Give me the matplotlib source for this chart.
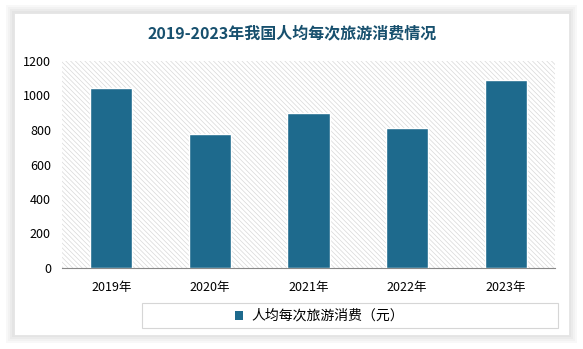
import matplotlib
matplotlib.use("Agg")
import matplotlib.pyplot as plt
from matplotlib.patches import Rectangle

plt.rcParams['font.family'] = ['Noto Sans CJK SC', 'DejaVu Sans']
plt.rcParams['hatch.linewidth'] = 0.5

years = ['2019年', '2020年', '2021年', '2022年', '2023年']
spend = [1043, 777, 899, 811, 1090]
yticks = [0, 200, 400, 600, 800, 1000, 1200]

title = '2019-2023年我国人均每次旅游消费情况'
series_name = '人均每次旅游消费（元）'
bar_color = '#1e6a8d'

W, H = 583, 349
fig = plt.figure(figsize=(W / 100, H / 100), dpi=100)
fig.patch.set_facecolor('white')

# card with soft shadow
for i, a in enumerate([0.05, 0.05, 0.06, 0.07]):
    pad = (4 - i) * 2
    fig.patches.append(Rectangle(((14 - pad) / W, 1 - (335 + pad) / H),
                                 (555 + 2 * pad) / W, (322 + 2 * pad) / H,
                                 transform=fig.transFigure, facecolor='#888888',
                                 edgecolor='none', alpha=a, zorder=0))
fig.patches.append(Rectangle((14 / W, 1 - 335 / H), 555 / W, 322 / H,
                             transform=fig.transFigure, facecolor='white',
                             edgecolor='#e4e4e4', linewidth=0.6, zorder=1))

fig.text(292 / W, 1 - 33 / H, title, ha='center', va='center', fontsize=11.5,
         fontweight='bold', color='#17506e', zorder=3)

ax = fig.add_axes([62 / W, 1 - 268 / H, 493 / W, 207 / H], zorder=2)
ax.set_facecolor('white')
ax.add_patch(Rectangle((0, 0), 1, 1, transform=ax.transAxes, facecolor='white',
                       edgecolor='#d8d8d8', hatch='\\\\\\\\\\\\\\', linewidth=0, zorder=0))

x = range(len(years))
ax.bar(x, spend, width=0.43, color=bar_color, edgecolor='white', linewidth=1.0,
       zorder=3, label=series_name)

ax.set_xlim(-0.5, len(years) - 0.5)
ax.set_ylim(0, 1200)
ax.set_yticks(yticks)
ax.set_xticks(list(x))
ax.set_xticklabels(years)
ax.tick_params(axis='both', length=0, labelsize=9, colors='black')
ax.tick_params(axis='y', pad=8)
ax.tick_params(axis='x', pad=9)
for s in ['top', 'right', 'left']:
    ax.spines[s].set_visible(False)
ax.spines['bottom'].set_color('#888888')
ax.spines['bottom'].set_linewidth(0.8)

# legend box
fig.patches.append(Rectangle((142 / W, 1 - 328 / H), 416 / W, 25 / H,
                             transform=fig.transFigure, facecolor='white',
                             edgecolor='#d6d6d6', linewidth=0.8, zorder=2))
fig.patches.append(Rectangle((235 / W, 1 - 320 / H), 8 / W, 9 / H,
                             transform=fig.transFigure, facecolor=bar_color,
                             edgecolor='none', zorder=3))
fig.text(251 / W, 1 - 315.5 / H, series_name, ha='left', va='center',
         fontsize=10, color='black', zorder=3)

fig.savefig('out.png', dpi=100)
